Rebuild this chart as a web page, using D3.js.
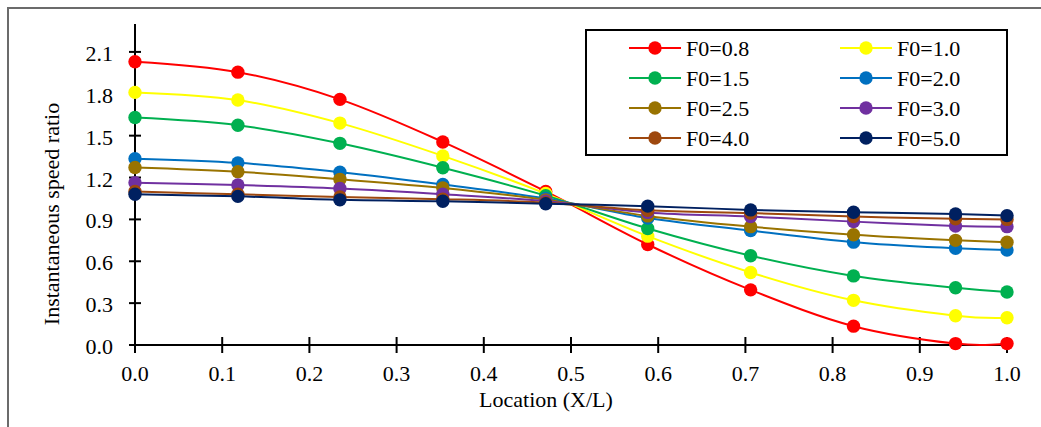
<!DOCTYPE html>
<html>
<head>
<meta charset="utf-8">
<script src="https://cdn.jsdelivr.net/npm/d3@7"></script>
<style>
  html, body { margin: 0; padding: 0; background: #fff; }
  svg { display: block; }
  text { font-family: "Liberation Serif", "Times New Roman", serif; fill: #000; }
</style>
</head>
<body>
<svg id="chart" width="1041" height="427"></svg>
<script>
// Sampling locations along the span (X/L)
const locations = [0, 0.118, 0.235, 0.353, 0.471, 0.588, 0.706, 0.824, 0.941, 1.0];

// Instantaneous speed ratio for each F0 value
const seriesNames = ["F0=0.8", "F0=1.0", "F0=1.5", "F0=2.0", "F0=2.5", "F0=3.0", "F0=4.0", "F0=5.0"];
const f08 = [2.03, 1.955, 1.76, 1.455, 1.10, 0.72, 0.395, 0.135, 0.01, 0.01];
const f10 = [1.81, 1.755, 1.59, 1.355, 1.085, 0.78, 0.52, 0.32, 0.21, 0.195];
const f15 = [1.63, 1.575, 1.445, 1.27, 1.07, 0.835, 0.64, 0.495, 0.41, 0.38];
const f20 = [1.335, 1.305, 1.238, 1.15, 1.05, 0.91, 0.82, 0.737, 0.693, 0.68];
const f25 = [1.272, 1.242, 1.187, 1.125, 1.04, 0.925, 0.848, 0.79, 0.75, 0.737];
const f30 = [1.163, 1.146, 1.121, 1.08, 1.03, 0.95, 0.92, 0.884, 0.853, 0.848];
const f40 = [1.10, 1.08, 1.06, 1.045, 1.02, 0.965, 0.945, 0.92, 0.905, 0.90];
const f50 = [1.08, 1.065, 1.04, 1.03, 1.012, 0.995, 0.968, 0.951, 0.939, 0.927];
const seriesValues = [f08, f10, f15, f20, f25, f30, f40, f50];
const seriesColors = ["#FF0000", "#FFFF00", "#00B050", "#0070C0", "#997300", "#7030A0", "#9E480E", "#002060"];

// Axis ticks
const xTicks = [0, 0.1, 0.2, 0.3, 0.4, 0.5, 0.6, 0.7, 0.8, 0.9, 1.0];
const yTicks = [0, 0.3, 0.6, 0.9, 1.2, 1.5, 1.8, 2.1];

const svg = d3.select("#chart");
const FONT = 22;

// Outer frame (top and left edges)
svg.append("path")
  .attr("d", "M8,427 V8 H1041")
  .attr("fill", "none")
  .attr("stroke", "#6b6b6b")
  .attr("stroke-width", 2);

const x = d3.scaleLinear().domain([0, 1]).range([135, 1007]);
const y = d3.scaleLinear().domain([0, 2.3]).range([345, 24]);

// Y axis
const yAxis = svg.append("g");
yAxis.append("line")
  .attr("x1", x(0)).attr("x2", x(0))
  .attr("y1", y(0)).attr("y2", y(2.3))
  .attr("stroke", "#000").attr("stroke-width", 2);
yAxis.selectAll("line.tick").data(yTicks).join("line")
  .attr("class", "tick")
  .attr("x1", x(0) - 6).attr("x2", x(0) + 6)
  .attr("y1", d => y(d)).attr("y2", d => y(d))
  .attr("stroke", "#000").attr("stroke-width", 2);
yAxis.selectAll("text").data(yTicks).join("text")
  .attr("x", 113)
  .attr("y", d => y(d) + 9)
  .attr("text-anchor", "end")
  .attr("font-size", FONT)
  .text(d3.format(".1f"));

// X axis
const xAxis = svg.append("g");
xAxis.append("line")
  .attr("x1", x(0)).attr("x2", x(1))
  .attr("y1", y(0)).attr("y2", y(0))
  .attr("stroke", "#000").attr("stroke-width", 2);
xAxis.selectAll("line.tick").data(xTicks).join("line")
  .attr("class", "tick")
  .attr("x1", d => x(d)).attr("x2", d => x(d))
  .attr("y1", y(0) - 8).attr("y2", y(0) + 8)
  .attr("stroke", "#000").attr("stroke-width", 2);
xAxis.selectAll("text").data(xTicks).join("text")
  .attr("x", d => x(d))
  .attr("y", 381)
  .attr("text-anchor", "middle")
  .attr("font-size", FONT)
  .text(d3.format(".1f"));

// Axis titles
svg.append("text")
  .attr("x", 546).attr("y", 406.5)
  .attr("text-anchor", "middle")
  .attr("font-size", FONT)
  .text("Location (X/L)");
svg.append("text")
  .attr("transform", "translate(59,214) rotate(-90)")
  .attr("text-anchor", "middle")
  .attr("font-size", FONT)
  .text("Instantaneous speed ratio");

// Smoothed series lines with markers
const line = d3.line()
  .x(d => x(d[0]))
  .y(d => y(d[1]))
  .curve(d3.curveCatmullRom.alpha(0));

const plot = svg.append("g");
seriesValues.forEach((vals, i) => {
  const pts = locations.map((loc, j) => [loc, vals[j]]);
  const g = plot.append("g");
  g.append("path")
    .datum(pts)
    .attr("d", line)
    .attr("fill", "none")
    .attr("stroke", seriesColors[i])
    .attr("stroke-width", 2);
  g.selectAll("circle").data(pts).join("circle")
    .attr("cx", d => x(d[0]))
    .attr("cy", d => y(d[1]))
    .attr("r", 6.7)
    .attr("fill", seriesColors[i]);
});

// Legend
const legend = svg.append("g");
legend.append("rect")
  .attr("x", 586).attr("y", 30)
  .attr("width", 421).attr("height", 125)
  .attr("fill", "#fff")
  .attr("stroke", "#000")
  .attr("stroke-width", 2);
seriesNames.forEach((name, i) => {
  const col = i % 2, row = Math.floor(i / 2);
  const lx = col === 0 ? 629 : 840;
  const ly = 48 + row * 30;
  legend.append("line")
    .attr("x1", lx).attr("x2", lx + 52)
    .attr("y1", ly).attr("y2", ly)
    .attr("stroke", seriesColors[i]).attr("stroke-width", 2);
  legend.append("circle")
    .attr("cx", lx + 26).attr("cy", ly)
    .attr("r", 6.7)
    .attr("fill", seriesColors[i]);
  legend.append("text")
    .attr("x", lx + 57).attr("y", ly + 7.5)
    .attr("font-size", FONT)
    .text(name);
});
</script>
</body>
</html>
